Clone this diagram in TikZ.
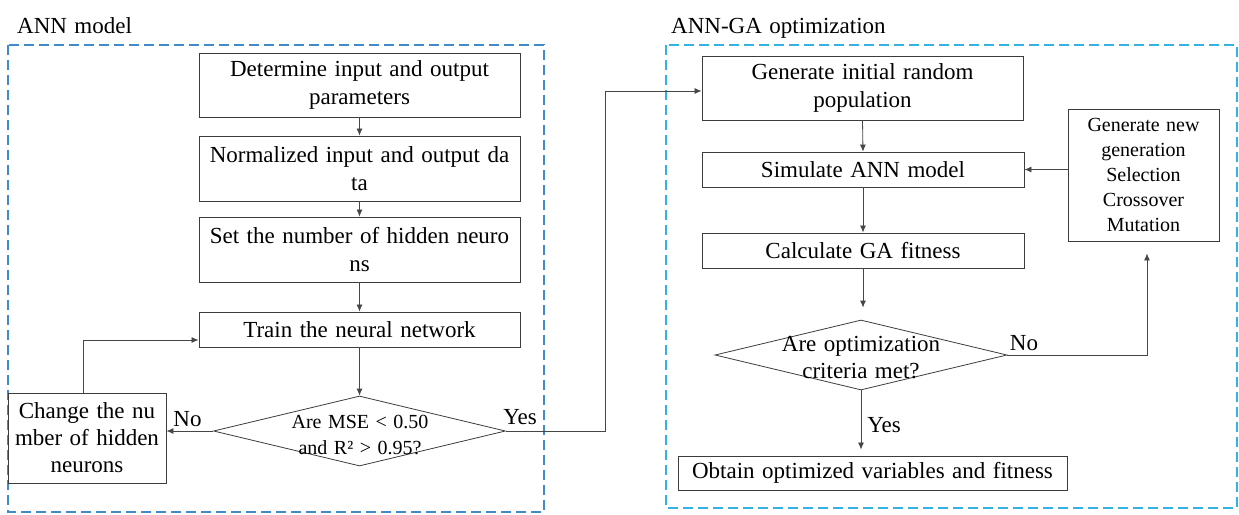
\documentclass[tikz,border=0pt]{standalone}
\usepackage{fontspec}
\setmainfont[WordSpace=1.3]{Liberation Serif}
\usetikzlibrary{arrows.meta,shapes.geometric,calc}
\definecolor{lblue}{RGB}{66,139,202}
\definecolor{rblue}{RGB}{52,178,228}
\definecolor{edgecol}{RGB}{60,60,60}
\definecolor{conncol}{RGB}{70,70,70}
\begin{document}
\begin{tikzpicture}[x=1pt,y=-1pt,
  box/.style={draw=edgecol, line width=0.9pt, align=center, inner sep=0pt, font=\rmfamily\fontsize{23}{28}\selectfont},
  dia/.style={draw=edgecol, line width=0.8pt, shape=diamond, inner sep=0pt, minimum width=292pt, minimum height=70pt},
  diatext/.style={align=center, inner sep=0pt},
  conn/.style={draw=conncol, line width=0.8pt, -{Latex[length=7pt,width=6pt]}},
  lbl/.style={font=\rmfamily\fontsize{23}{26}\selectfont, inner sep=0pt, anchor=base},
  frame/.style={dash pattern=on 10pt off 5pt, line width=1.3pt},
  ttl/.style={font=\rmfamily\fontsize{23}{26}\selectfont, inner sep=0pt, anchor=base west}
]
\useasboundingbox (0,0) rectangle (1239,514);
\draw[frame, draw=lblue] (8,45) rectangle (544,512);
\draw[frame, draw=rblue] (666,45) rectangle (1237,508);
\node[ttl] (t1) at (17,33) {ANN model};
\node[ttl] (t2) at (671,33) {ANN-GA optimization};

% left column
\node[box, minimum width=321pt, minimum height=64pt] (b1) at (359.5,85) {Determine input and output\\parameters};
\node[box, minimum width=321pt, minimum height=65pt] (b2) at (359.5,168.5) {Normalized input and output da\\ta};
\node[box, minimum width=321pt, minimum height=65pt] (b3) at (359.5,249.5) {Set the number of hidden neuro\\ns};
\node[box, minimum width=321pt, minimum height=35pt] (b4) at (359.5,329.5) {Train the neural network};
\node[dia] (d1) at (359.5,431) {};
\node[diatext, font=\rmfamily\fontsize{20}{26}\selectfont] (d1t) at (360,435) {Are MSE < 0.50\\and R² > 0.95?};
\node[box, minimum width=158pt, minimum height=90pt, font=\rmfamily\fontsize{23}{27}\selectfont] (ch) at (87,438) {Change the nu\\mber of hidden\\neurons};

% right column
\node[box, minimum width=321pt, minimum height=64pt] (g1) at (862.5,88) {Generate initial random\\population};
\node[box, minimum width=322pt, minimum height=35pt] (s1) at (863,169.5) {Simulate ANN model};
\node[box, minimum width=322pt, minimum height=35pt] (c1) at (863,250.5) {Calculate GA fitness};
\node[dia] (d2) at (861,355) {};
\node[diatext, font=\rmfamily\fontsize{23}{27}\selectfont] (d2t) at (861,358) {Are optimization\\criteria met?};
\node[box, minimum width=389pt, minimum height=34pt] (ob) at (872.5,473) {Obtain optimized variables and fitness};
\node[box, minimum width=151pt, minimum height=132pt, font=\rmfamily\fontsize{20}{25}\selectfont] (gn) at (1143.5,175) {Generate new\\generation\\Selection\\Crossover\\Mutation};

% connectors left
\draw[conn] (b1.south) -- (b2.north);
\draw[conn] (b2.south) -- (b3.north);
\draw[conn] (b3.south) -- (b4.north);
\draw[conn] (b4.south) -- (d1.north);
\draw[conn] (d1.west) -- (d1.west -| ch.east);
\coordinate (chtop) at ($(ch.north)+(-4,0)$);
\draw[conn] (chtop) |- ($(b4.west)+(0,10.5)$);
\draw[conn] (d1.east) -- ($(d1.east)+(99,0)$) |- ($(g1.west)+(0,3)$);
\node[lbl] (no1) at (187.5,426) {No};
\node[lbl] (yes1) at (520,424) {Yes};

% connectors right
\draw[conn] (g1.south) -- (s1.north);
\draw[conn] (s1.south) -- (c1.north);
\draw[conn, shorten >=12pt] (c1.south) -- (c1.south |- d2.north);
\draw[conn] (s1.east -| gn.west) -- (s1.east);
\draw[conn, shorten >=12pt] (d2.east) -| ($(gn.south)+(3.5,0)$);
\draw[conn, shorten >=6pt] (d2.south) -- (d2.south |- ob.north);
\node[lbl] (no2) at (1024,350) {No};
\node[lbl] (yes2) at (884,432) {Yes};
\end{tikzpicture}
\end{document}
